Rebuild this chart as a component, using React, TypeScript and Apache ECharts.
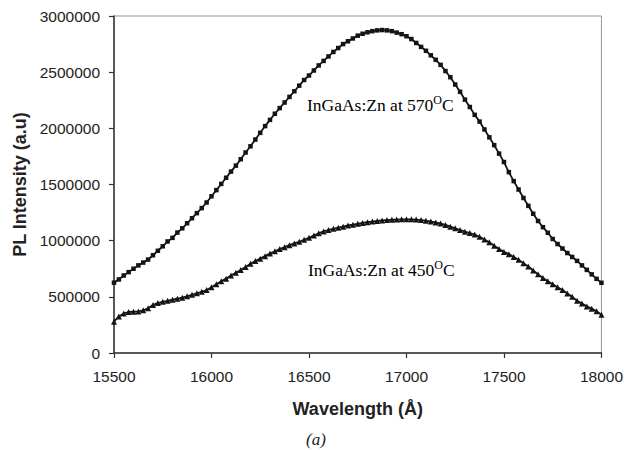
import React, { useEffect, useRef } from "react";
import * as echarts from "echarts";

const wavelength = [
  15500, 15525, 15550, 15575, 15600, 15625, 15650, 15675, 15700, 15725,
  15750, 15775, 15800, 15825, 15850, 15875, 15900, 15925, 15950, 15975,
  16000, 16025, 16050, 16075, 16100, 16125, 16150, 16175, 16200, 16225,
  16250, 16275, 16300, 16325, 16350, 16375, 16400, 16425, 16450, 16475,
  16500, 16525, 16550, 16575, 16600, 16625, 16650, 16675, 16700, 16725,
  16750, 16775, 16800, 16825, 16850, 16875, 16900, 16925, 16950, 16975,
  17000, 17025, 17050, 17075, 17100, 17125, 17150, 17175, 17200, 17225,
  17250, 17275, 17300, 17325, 17350, 17375, 17400, 17425, 17450, 17475,
  17500, 17525, 17550, 17575, 17600, 17625, 17650, 17675, 17700, 17725,
  17750, 17775, 17800, 17825, 17850, 17875, 17900, 17925, 17950, 17975,
  18000,
];

const pl570 = [
  626000, 655000, 690000, 720000, 750000, 780000, 805000, 832000, 870000, 910000,
  950000, 993000, 1025000, 1072000, 1110000, 1155000, 1200000, 1245000, 1290000, 1340000,
  1395000, 1450000, 1505000, 1560000, 1615000, 1668000, 1725000, 1785000, 1840000, 1900000,
  1960000, 2020000, 2075000, 2130000, 2180000, 2230000, 2280000, 2330000, 2380000, 2430000,
  2470000, 2515000, 2560000, 2600000, 2640000, 2680000, 2715000, 2750000, 2775000, 2800000,
  2825000, 2842000, 2855000, 2865000, 2872000, 2875000, 2872000, 2865000, 2852000, 2838000,
  2820000, 2795000, 2760000, 2725000, 2690000, 2650000, 2610000, 2565000, 2510000, 2455000,
  2390000, 2325000, 2255000, 2190000, 2120000, 2060000, 1990000, 1920000, 1850000, 1775000,
  1700000, 1610000, 1530000, 1455000, 1380000, 1310000, 1240000, 1175000, 1120000, 1070000,
  1015000, 970000, 930000, 890000, 855000, 820000, 780000, 740000, 700000, 660000,
  625000,
];

const pl450 = [
  279000, 325000, 352000, 365000, 368000, 370000, 380000, 398000, 428000, 445000,
  456000, 465000, 474000, 483000, 492000, 505000, 518000, 532000, 545000, 560000,
  585000, 612000, 638000, 662000, 690000, 715000, 738000, 765000, 795000, 818000,
  840000, 862000, 885000, 905000, 925000, 942000, 960000, 975000, 990000, 1008000,
  1025000, 1045000, 1065000, 1082000, 1095000, 1105000, 1115000, 1125000, 1135000, 1142000,
  1150000, 1158000, 1165000, 1170000, 1175000, 1180000, 1183000, 1186000, 1188000, 1190000,
  1190000, 1190000, 1188000, 1183000, 1178000, 1170000, 1162000, 1152000, 1140000, 1125000,
  1110000, 1095000, 1080000, 1068000, 1055000, 1035000, 1010000, 985000, 955000, 925000,
  900000, 880000, 855000, 830000, 800000, 770000, 735000, 700000, 668000, 638000,
  612000, 585000, 560000, 530000, 500000, 465000, 440000, 415000, 395000, 372000,
  340000,
];

const xTicks = { min: 15500, max: 18000, interval: 500 };
const yTicks = { min: 0, max: 3000000, interval: 500000 };

const label570 = "InGaAs:Zn at 570";
const label450 = "InGaAs:Zn at 450";
const xTitle = "Wavelength (Å)";
const yTitle = "PL Intensity (a.u)";
const caption = "(a)";

export default function App() {
  const ref = useRef<HTMLDivElement>(null);

  useEffect(() => {
    if (!ref.current) return;
    const chart = echarts.init(ref.current, undefined, { renderer: "svg" });
    const ink = "#141414";
    const labelFont = "'Liberation Sans', Arial, sans-serif";
    const serif = "'Liberation Serif', 'Times New Roman', serif";
    const richStyle = {
      main: { fontFamily: serif, fontSize: 17.5, color: "#222", lineHeight: 20, verticalAlign: "bottom" },
      sup: { fontFamily: serif, fontSize: 12, color: "#222", lineHeight: 20, verticalAlign: "top" },
    };
    chart.setOption({
      animation: false,
      backgroundColor: "#ffffff",
      grid: {
        left: 114,
        right: 23,
        top: 16,
        bottom: 97,
        show: true,
        borderColor: "#8d97a1",
        borderWidth: 1,
        backgroundColor: "transparent",
      },
      xAxis: {
        type: "value",
        min: xTicks.min,
        max: xTicks.max,
        interval: xTicks.interval,
        name: xTitle,
        nameLocation: "middle",
        nameGap: 47,
        nameTextStyle: { fontFamily: labelFont, fontWeight: "bold", fontSize: 18, color: "#222" },
        axisLine: { show: true, onZero: false, lineStyle: { color: "#333", width: 1.5 } },
        axisTick: { show: true, inside: false, length: 5, lineStyle: { color: "#333", width: 1.2 } },
        axisLabel: {
          margin: 15,
          fontFamily: labelFont,
          fontSize: 15.5,
          color: "#222",
          formatter: (v: number) => String(v),
        },
        splitLine: { show: false },
      },
      yAxis: {
        type: "value",
        min: yTicks.min,
        max: yTicks.max,
        interval: yTicks.interval,
        name: yTitle,
        nameLocation: "middle",
        nameGap: 85,
        nameTextStyle: { fontFamily: labelFont, fontWeight: "bold", fontSize: 18, color: "#222" },
        axisLine: { show: true, lineStyle: { color: "#333", width: 1.5 } },
        axisTick: { show: true, inside: false, length: 5, lineStyle: { color: "#333", width: 1.2 } },
        axisLabel: {
          margin: 14,
          fontFamily: labelFont,
          fontSize: 15.5,
          color: "#222",
          formatter: (v: number) => String(v),
        },
        splitLine: { show: false },
      },
      series: [
        {
          name: "570",
          type: "line",
          data: wavelength.map((w, i) => [w, pl570[i]]),
          symbol: "rect",
          symbolSize: 4.5,
          showSymbol: true,
          lineStyle: { color: ink, width: 1.8 },
          itemStyle: { color: ink, borderWidth: 0 },
        },
        {
          name: "450",
          type: "line",
          data: wavelength.map((w, i) => [w, pl450[i]]),
          symbol: "triangle",
          symbolSize: 6,
          showSymbol: true,
          lineStyle: { color: ink, width: 1.8 },
          itemStyle: { color: ink, borderWidth: 0 },
        },
      ],
      graphic: [
        {
          type: "text",
          left: 307,
          top: 94,
          style: {
            text: "{main|" + label570 + "}{sup|O}{main|C}",
            rich: richStyle,
          },
        },
        {
          type: "text",
          left: 308,
          top: 259,
          style: {
            text: "{main|" + label450 + "}{sup|O}{main|C}",
            rich: richStyle,
          },
        },
        {
          type: "text",
          left: 306,
          top: 431,
          style: {
            text: caption,
            fontFamily: serif,
            fontStyle: "italic",
            fontSize: 17,
            fill: "#222",
          },
        },
      ],
    });
    return () => chart.dispose();
  }, []);

  return (
    <div
      ref={ref}
      style={{ position: "fixed", left: 0, top: 0, width: 626, height: 450, background: "#fff" }}
    />
  );
}
